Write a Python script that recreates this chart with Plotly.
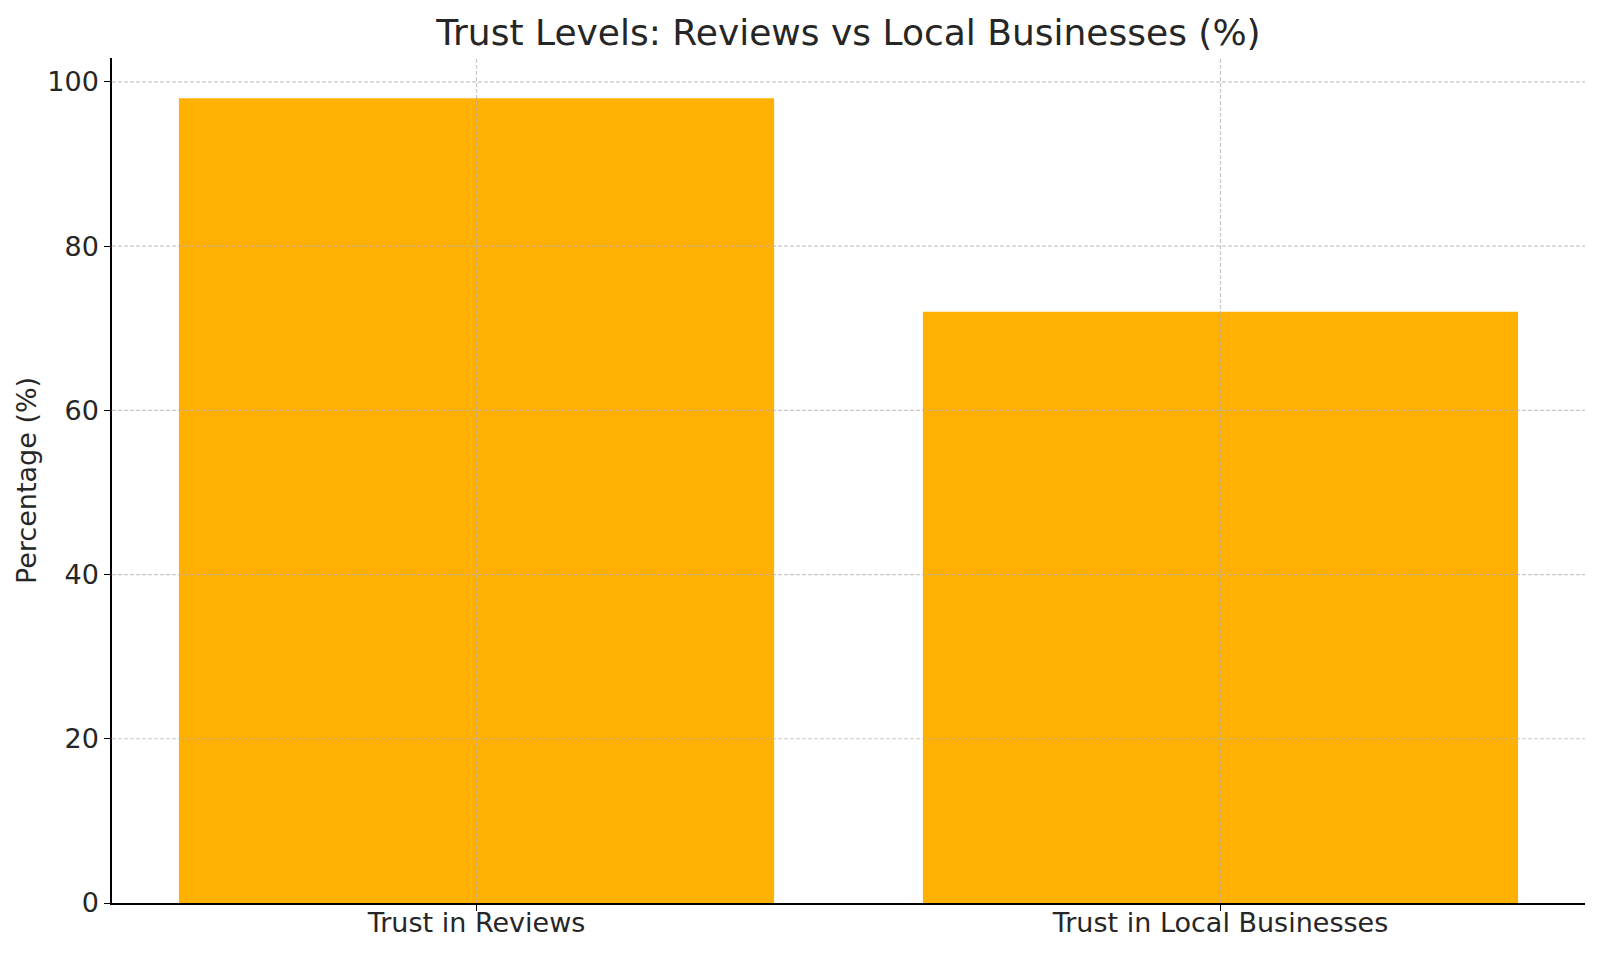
import plotly.graph_objects as go

categories = ["Trust in Reviews", "Trust in Local Businesses"]
percentages = [98, 72]
y_ticks = [0, 20, 40, 60, 80, 100]

font_family = "DejaVu Sans"
text_color = "#262626"
grid_color = "rgba(176,176,176,0.7)"

fig = go.Figure()
fig.add_trace(go.Bar(
    x=categories,
    y=percentages,
    marker=dict(color="#FFB000", line_width=0),
    showlegend=False,
))

# matplotlib draws the grid over the bars, so use shapes on top
for cat in categories:
    fig.add_shape(type="line", xref="x", yref="paper", x0=cat, x1=cat, y0=0, y1=1,
                  line=dict(color=grid_color, width=1.2, dash="4px,2px"), layer="above")
for t in y_ticks[1:]:
    fig.add_shape(type="line", xref="paper", yref="y", x0=0, x1=1, y0=t, y1=t,
                  line=dict(color=grid_color, width=1.2, dash="4px,2px"), layer="above")

fig.update_layout(
    width=1600,
    height=954,
    paper_bgcolor="white",
    plot_bgcolor="white",
    margin=dict(l=112, r=15, t=58, b=51),
    bargap=0.2,
    font=dict(family=font_family, color=text_color, size=27),
    title=dict(
        text="Trust Levels: Reviews vs Local Businesses (%)",
        font=dict(family=font_family, size=36, color=text_color),
        x=0.5, xref="paper", xanchor="center",
        y=1 - 32 / 954, yref="container", yanchor="middle",
    ),
    xaxis=dict(
        range=[-0.49, 1.49],
        showline=True, linecolor="black", linewidth=1.5,
        ticks="outside", ticklen=6, tickcolor="black", tickwidth=1,
        showgrid=False,
        tickfont=dict(size=27, color=text_color),
        ticklabelstandoff=-11,
        zeroline=False,
        layer="above traces",
        automargin=False,
    ),
    yaxis=dict(
        range=[0, 102.9],
        tickvals=y_ticks,
        showline=True, linecolor="black", linewidth=1.5,
        ticks="outside", ticklen=6, tickcolor="black", tickwidth=1,
        showgrid=False,
        tickfont=dict(size=27, color=text_color),
        zeroline=False,
        layer="above traces",
        title=dict(text="Percentage (%)", font=dict(size=27, color=text_color), standoff=3),
        automargin=False,
    ),
)

fig.write_html("out.html", config={"displayModeBar": False},
               post_script="document.body.style.margin='0';")
